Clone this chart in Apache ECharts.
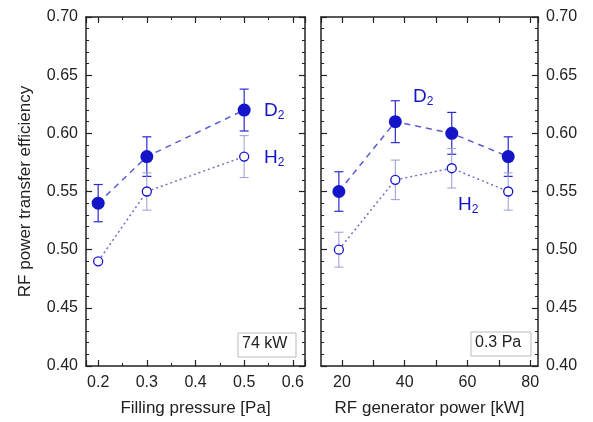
<!DOCTYPE html>
<html><head><meta charset="utf-8">
<script src="https://cdn.jsdelivr.net/npm/echarts@6/dist/echarts.min.js"></script>
<style>html,body{margin:0;padding:0;background:#fff}#c{width:593px;height:422px}</style>
</head><body><div id="c"></div>
<script>
// Left panel: filling pressure [Pa] at 74 kW
const pressure = [0.2, 0.3, 0.5];
const pD2 = [0.54, 0.58, 0.62];
const pD2Err = [0.016, 0.017, 0.018];
const pH2 = [0.49, 0.55, 0.58];
const pH2Low = [null, 0.534, 0.562];
const pH2High = [null, 0.566, 0.598];
// Right panel: RF generator power [kW] at 0.3 Pa
const power = [19, 37, 55, 73];
const wD2 = [0.55, 0.61, 0.60, 0.58];
const wD2Err = [0.017, 0.018, 0.018, 0.017];
const wH2 = [0.50, 0.56, 0.57, 0.55];
const wH2Low = [0.485, 0.543, 0.553, 0.534];
const wH2High = [0.515, 0.577, 0.587, 0.566];

const FONT = 'Liberation Sans, Arial, sans-serif';
const BLUE = '#1414c8';
const LINE = '#5a5ad2';
const AX = '#222';

function pairs(xs, ys){ return xs.map((x,i)=>[x, ys[i]]); }
function errData(xs, lo, hi){ return xs.map((x,i)=> lo[i]==null ? null : [x, lo[i], hi[i]]).filter(d=>d); }
function symErr(xs, ys, e){ return errData(xs, ys.map((y,i)=>y-e[i]), ys.map((y,i)=>y+e[i])); }

function errSeries(xi, yi, data, color, w){
  return {
    type:'custom', xAxisIndex:xi, yAxisIndex:yi, data:data, z:1, silent:true,
    renderItem:function(params, api){
      const x = api.value(0), lo = api.value(1), hi = api.value(2);
      const a = api.coord([x, lo]), b = api.coord([x, hi]);
      const c = 4.5;
      const st = {stroke:color, lineWidth:w};
      return {type:'group', children:[
        {type:'line', shape:{x1:a[0],y1:a[1],x2:b[0],y2:b[1]}, style:st},
        {type:'line', shape:{x1:a[0]-c,y1:a[1],x2:a[0]+c,y2:a[1]}, style:st},
        {type:'line', shape:{x1:b[0]-c,y1:b[1],x2:b[0]+c,y2:b[1]}, style:st}
      ]};
    }
  };
}

const yBase = {
  type:'value', min:0.4, max:0.7, interval:0.05,
  axisLine:{show:true, onZero:false, lineStyle:{color:AX, width:1.5}},
  axisTick:{show:true, inside:true, length:6, lineStyle:{color:AX, width:1.2}},
  minorTick:{show:true, splitNumber:5, length:3, lineStyle:{color:AX}},
  splitLine:{show:false},
  axisLabel:{show:false}
};
function yAxis(grid, pos, labels){
  const o = JSON.parse(JSON.stringify(yBase));
  o.gridIndex = grid; o.position = pos;
  if (labels){
    o.axisLabel = {show:true, color:'#222', fontFamily:FONT, fontSize:16, margin:8,
      formatter:function(v){return v.toFixed(2);}};
  }
  return o;
}
function xAxis(grid, pos, min, max, minorSplit, labels, name, fmt){
  const o = {
    type:'value', gridIndex:grid, position:pos, min:min, max:max, splitNumber:5,
    axisLine:{show:true, onZero:false, lineStyle:{color:AX, width:1.5}},
    axisTick:{show:true, inside:true, length:6, lineStyle:{color:AX, width:1.2}},
    minorTick:{show:minorSplit>0, splitNumber:minorSplit||2, length:3, lineStyle:{color:AX}},
    splitLine:{show:false},
    axisLabel:{show:false}
  };
  if (labels){
    o.axisLabel = {show:true, color:'#222', fontFamily:FONT, fontSize:16, margin:9,
      showMinLabel:false, showMaxLabel:false, formatter:fmt};
    o.name = name; o.nameLocation = 'middle'; o.nameGap = 34;
    o.nameTextStyle = {color:'#222', fontFamily:FONT, fontSize:17};
  }
  return o;
}

const yl = yAxis(0, 'left', true);
yl.name = 'RF power transfer efficiency'; yl.nameLocation = 'middle'; yl.nameGap = 52;
yl.nameTextStyle = {color:'#222', fontFamily:FONT, fontSize:17};

const option = {
  animation:false,
  backgroundColor:'#fff',
  grid:[
    {left:86, right:288, top:17, bottom:53},
    {left:321, right:55, top:17, bottom:53}
  ],
  xAxis:[
    xAxis(0, 'bottom', 0.175, 0.625, 2, true, 'Filling pressure [Pa]', v=>v.toFixed(1)),
    xAxis(0, 'top', 0.175, 0.625, 2, false),
    xAxis(1, 'bottom', 13.3, 82.5, 0, true, 'RF generator power [kW]',
      v=>{const r=Math.round(v); return (Math.abs(v-r)<1e-6 && r%20===0) ? String(r) : '';}),
    xAxis(1, 'top', 13.3, 82.5, 0, false)
  ],
  yAxis:[
    yl,
    yAxis(0, 'right', false),
    yAxis(1, 'right', true),
    yAxis(1, 'left', false)
  ],
  series:[
    errSeries(0, 0, symErr(pressure, pD2, pD2Err), '#2a2ad0', 1.2),
    errSeries(0, 0, errData(pressure, pH2Low, pH2High), '#9a9ad8', 1),
    {type:'line', xAxisIndex:0, yAxisIndex:0, data:pairs(pressure, pD2), z:3,
      symbol:'circle', symbolSize:13, itemStyle:{color:BLUE},
      lineStyle:{color:LINE, width:1.5, type:[6,5]}},
    {type:'line', xAxisIndex:0, yAxisIndex:0, data:pairs(pressure, pH2), z:3,
      symbol:'circle', symbolSize:9, itemStyle:{color:'#fff', borderColor:BLUE, borderWidth:1.3},
      lineStyle:{color:'#7070c8', width:1.5, type:[2,3]}},
    errSeries(2, 2, symErr(power, wD2, wD2Err), '#2a2ad0', 1.2),
    errSeries(2, 2, errData(power, wH2Low, wH2High), '#9a9ad8', 1),
    {type:'line', xAxisIndex:2, yAxisIndex:2, data:pairs(power, wD2), z:3,
      symbol:'circle', symbolSize:13, itemStyle:{color:BLUE},
      lineStyle:{color:LINE, width:1.5, type:[6,5]}},
    {type:'line', xAxisIndex:2, yAxisIndex:2, data:pairs(power, wH2), z:3,
      symbol:'circle', symbolSize:9, itemStyle:{color:'#fff', borderColor:BLUE, borderWidth:1.3},
      lineStyle:{color:'#7070c8', width:1.5, type:[2,3]}}
  ],
  graphic:[
    {type:'text', left:264, top:101, style:{text:'D{s|2}', fill:BLUE, font:'19px '+FONT,
      rich:{s:{fontSize:12, verticalAlign:'bottom', fill:BLUE, padding:[10,0,0,0]}}}},
    {type:'text', left:264, top:148, style:{text:'H{s|2}', fill:BLUE, font:'19px '+FONT,
      rich:{s:{fontSize:12, verticalAlign:'bottom', fill:BLUE, padding:[10,0,0,0]}}}},
    {type:'text', left:413, top:87, style:{text:'D{s|2}', fill:BLUE, font:'19px '+FONT,
      rich:{s:{fontSize:12, verticalAlign:'bottom', fill:BLUE, padding:[10,0,0,0]}}}},
    {type:'text', left:458, top:195, style:{text:'H{s|2}', fill:BLUE, font:'19px '+FONT,
      rich:{s:{fontSize:12, verticalAlign:'bottom', fill:BLUE, padding:[10,0,0,0]}}}},
    {type:'rect', shape:{x:238, y:333, width:58, height:24}, style:{fill:'#fff', stroke:'#bbb', lineWidth:1}},
    {type:'text', left:242, top:336, style:{text:'74 kW', fill:'#222', font:'16px '+FONT}},
    {type:'rect', shape:{x:471, y:332, width:60, height:24}, style:{fill:'#fff', stroke:'#bbb', lineWidth:1}},
    {type:'text', left:475, top:335, style:{text:'0.3 Pa', fill:'#222', font:'16px '+FONT}}
  ]
};
echarts.init(document.getElementById('c'), null, {renderer:'canvas'}).setOption(option);
</script></body></html>
